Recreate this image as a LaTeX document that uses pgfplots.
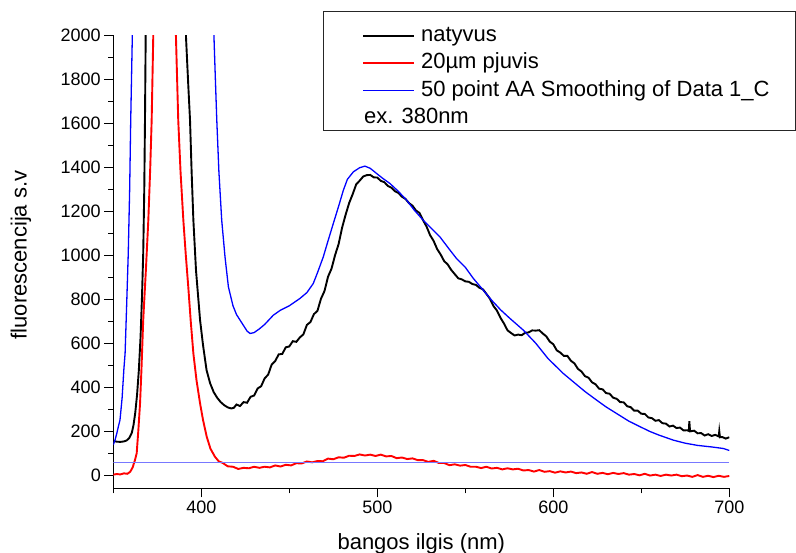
\documentclass[border=0pt]{standalone}
\usepackage{fontspec}
\setmainfont{Liberation Sans}
\usepackage{pgfplots}
\pgfplotsset{compat=1.18}
\usepackage{pgfplotstable}
\definecolor{baseblue}{RGB}{120,120,255}

\pgfplotstableread{
x y
350 155
352 152
354 151
356 153
357.5 157
359 168
360.5 192
361.5 228
362.5 285
363.5 365
364.5 475
365.5 630
366.3 810
367 1008
367.6 1300
368 1610
368.4 1993
369.2 2600
380 6000
390.5 2600
391.3 1993
392.5 1790
393.6 1613
394.5 1380
395.5 1159
397 930
399.3 705
401 590
403 477
405 418
407 378
409 352
411 332
413 318
415 308
417 303
418.5 306
420 321
422 314
424 332
426 329
428 356
430 362
432 394
434 404
436 440
438 457
440 503
442 519
444 549
446 551
448 581
450 585
452 609
454 606
456 626
458 640
460 683
462 696
464 732
466 747
468 802
470 837
472 902
474 939
476 1000
478 1050
480 1125
482 1184
484 1237
486 1277
488 1322
490 1339
492 1358
494 1364
496 1365
498 1354
500 1353
502 1338
504 1332
506 1315
508 1307
510 1291
512 1283
514 1266
516 1256
518 1237
520 1225
522 1203
524 1192
526 1159
528 1130
530 1091
532 1065
534 1028
536 1003
538 973
540 958
542 933
544 914
546 895
548 890
550 881
552 879
554 869
556 865
558 852
560 845
562 824
564 802
566 769
568 748
570 715
572 689
574 658
576 646
578 635
580 639
582 636
584 647
586 649
588 658
590 657
592 659
594 644
596 631
598 607
600 595
602 567
604 557
606 542
608 542
610 520
612 508
614 483
616 471
618 450
620 443
622 422
624 413
626 393
628 390
630 373
632 370
634 352
636 347
638 332
640 331
642 313
644 309
646 293
648 293
650 279
652 278
654 262
656 259
658 247
660 250
662 236
664 234
666 221
668 225
670 214
672 216
674 203
676 204
677 201
677.3 245
677.7 199
680 202
682 190
684 191
686 180
688 186
690 178
692 183
694 176
694.3 200
694.7 172
696 173
698 166
700 172
}\natyvus

\pgfplotstableread{
x y
350 2
352 5
354 3
356 8
358 6
359.6 15
361 35
362.3 68
363.3 100
364.2 200
365.2 326
366 480
367 705
368.5 930
369.9 1159
371 1400
371.8 1614
372.7 1993
374 2600
379 6000
385 2600
385.6 1993
386.9 1614
388.2 1380
389.8 1159
391.2 1000
392.6 856
394 700
395.5 553
397.3 430
399.3 326
401 250
403.1 174
405.2 120
407.8 83
410 62
412 56
415 40
418 38
421 28
424 33
427 31
430 38
433 33
436 38
439 35
442 44
445 39
448 47
451 44
454 54
457 53
460 62
463 58
466 64
469 63
472 75
475 72
478 81
481 79
484 88
487 87
490 94
493 89
496 93
499 87
502 93
505 85
508 87
511 77
514 80
517 73
520 76
523 68
526 68
529 60
532 65
535 55
538 55
541 45
544 49
547 43
550 46
553 38
556 38
559 32
562 38
565 30
568 33
571 26
574 31
577 26
580 29
583 21
586 23
589 16
592 23
595 15
598 18
601 11
604 17
607 12
610 16
613 9
616 12
619 6
622 14
625 6
628 10
631 4
634 10
637 5
640 9
643 2
646 5
649 -1
652 6
655 -2
658 2
661 -4
664 2
667 -2
670 2
673 -5
676 -2
679 -8
682 0
685 -8
688 -3
691 -9
694 -3
697 -8
700 -4
}\pjuvis

\pgfplotstableread{
x y
350 138
351 160
352 190
353 225
353.8 250
355 350
356 480
356.7 553
357.5 750
358.5 1008
359.3 1300
359.9 1614
360.8 1993
362 2700
384 6500
406 2700
407.2 1993
408 1800
408.8 1614
410 1380
411.6 1159
413.5 990
415.4 856
418 770
420 730
422 705
424 680
426 655
427.7 644
430 648
433 665
436 685
440.9 727
445 750
450 770
456 803
460 830
463.6 871
466 920
469.3 992
472 1065
475 1144
478 1222
480.7 1295
483 1345
486.4 1379
490 1398
493 1405
496 1395
499.7 1371
503 1350
507.2 1326
512 1290
516.7 1250
521 1205
526.1 1159
531 1120
535.6 1083
541.3 1023
545 985
550 945
554.5 895
560.2 841
565 795
570 752
575 715
583 659
590 600
597 530
605.7 462
612 420
618 380
624.6 341
630 310
637 275
643 245
649.3 220
655 198
660 182
668.2 159
675 145
682 135
690 128
696.6 121
700 112
}\smooth

\pgfplotstableread{
x y
350 57
700 57
}\baseline

\begin{document}
\begin{tikzpicture}
\begin{axis}[
  name=ax,
  scale only axis,
  width=616pt, height=453pt,
  xmin=350, xmax=700, ymin=-60, ymax=2000,
  axis lines*=left,
  axis line style={-, line width=1.2pt, black},
  xtick={400,500,600,700},
  minor xtick={350,450,550,650},
  ytick={0,200,...,2000},
  minor ytick={100,300,...,1900},
  tick align=outside,
  major tick length=9pt,
  minor tick length=5pt,
  every tick/.style={black, line width=1pt},
  tick label style={font=\fontsize{18}{21}\selectfont},
  /pgf/number format/assume math mode=true,
  /pgf/number format/1000 sep={},
  xlabel={bangos ilgis (nm)},
  ylabel={fluorescencija s.v},
  label style={font=\fontsize{22}{26}\selectfont},
  xlabel style={at={(axis description cs:0.5,-0.1345)}, anchor=base},
  ylabel style={at={(axis description cs:-0.15,0.515)}, anchor=center},
  legend style={draw=none, fill=none, at={(axis description cs:0.4037,1.0227)}, anchor=north west,
    inner xsep=0pt, inner ysep=0pt, row sep=6.5pt, column sep=6pt,
    font=\fontsize{22}{26}\selectfont,
    nodes={inner sep=0pt, text height=16pt, text depth=5pt}},
  legend cell align=left,
  legend image code/.code={\draw[#1] (0pt,0pt) -- (51pt,0pt);},
]
\addplot[black, line width=1.9pt] table {\natyvus};
\addlegendentry{natyvus}
\addplot[red, line width=1.9pt] table {\pjuvis};
\addlegendentry{20µm pjuvis}
\addplot[blue, line width=1.3pt] table {\smooth};
\addlegendentry{50 point AA Smoothing of Data 1\_C}
\addplot[baseblue, line width=1.7pt, forget plot] table {\baseline};
\addlegendimage{empty legend}
\addlegendentry{\hspace*{-57pt}ex. 380nm}
\end{axis}
\draw[line width=1pt, black!85] ([shift={(209.7pt,357.6pt)}]ax.south west) rectangle ([shift={(681.7pt,476.6pt)}]ax.south west);
\pgfresetboundingbox
\path[use as bounding box] ([shift={(-113.3pt,-64.7pt)}]ax.south west) rectangle ([shift={(682.7pt,488.3pt)}]ax.south west);
\end{tikzpicture}
\end{document}
